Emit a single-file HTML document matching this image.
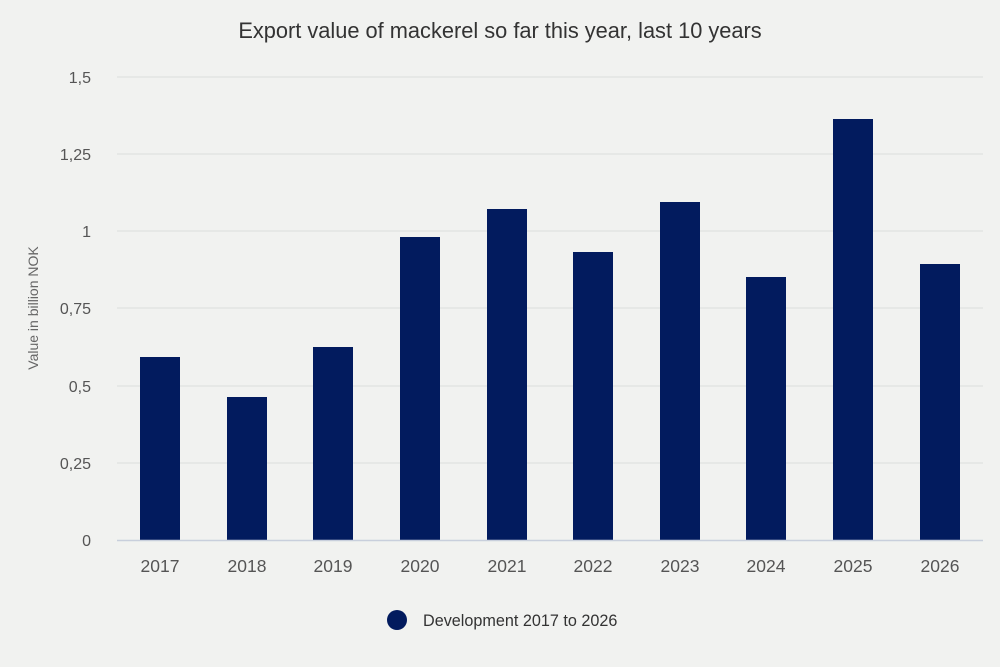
<!DOCTYPE html>
<html><head><meta charset="utf-8"><style>
html,body{margin:0;padding:0;background:#f1f2f0;}
svg{display:block;font-family:"Liberation Sans",sans-serif;}
</style></head><body>
<svg width="1000" height="667" viewBox="0 0 1000 667">
<rect width="1000" height="667" fill="#f1f2f0"/>
<text x="500" y="38" text-anchor="middle" font-size="21.8" fill="#333">Export value of mackerel so far this year, last 10 years</text>
<g stroke="#dfe1df" stroke-width="1.3">
<line x1="117" x2="983" y1="77" y2="77"/>
<line x1="117" x2="983" y1="154" y2="154"/>
<line x1="117" x2="983" y1="231" y2="231"/>
<line x1="117" x2="983" y1="308" y2="308"/>
<line x1="117" x2="983" y1="386" y2="386"/>
<line x1="117" x2="983" y1="463" y2="463"/>
</g>
<g font-size="16" fill="#555" text-anchor="end">
<text x="91" y="83">1,5</text>
<text x="91" y="160">1,25</text>
<text x="91" y="237">1</text>
<text x="91" y="314">0,75</text>
<text x="91" y="392">0,5</text>
<text x="91" y="469">0,25</text>
<text x="91" y="546">0</text>
</g>
<text transform="translate(38,308) rotate(-90)" text-anchor="middle" font-size="14" fill="#666">Value in billion NOK</text>
<g fill="#021b5e">
<rect x="140" y="357" width="40" height="183"/>
<rect x="227" y="397" width="40" height="143"/>
<rect x="313" y="347" width="40" height="193"/>
<rect x="400" y="237" width="40" height="303"/>
<rect x="487" y="209" width="40" height="331"/>
<rect x="573" y="252" width="40" height="288"/>
<rect x="660" y="202" width="40" height="338"/>
<rect x="746" y="277" width="40" height="263"/>
<rect x="833" y="119" width="40" height="421"/>
<rect x="920" y="264" width="40" height="276"/>
</g>
<line x1="117" x2="983" y1="540.5" y2="540.5" stroke="#c8cfdc" stroke-width="1.5"/>
<g font-size="17.5" fill="#555" text-anchor="middle">
<text x="160" y="572">2017</text>
<text x="247" y="572">2018</text>
<text x="333" y="572">2019</text>
<text x="420" y="572">2020</text>
<text x="507" y="572">2021</text>
<text x="593" y="572">2022</text>
<text x="680" y="572">2023</text>
<text x="766" y="572">2024</text>
<text x="853" y="572">2025</text>
<text x="940" y="572">2026</text>
</g>
<circle cx="397" cy="620" r="10" fill="#021b5e"/>
<text x="423" y="626" font-size="16.2" fill="#333">Development 2017 to 2026</text>
</svg>
</body></html>
